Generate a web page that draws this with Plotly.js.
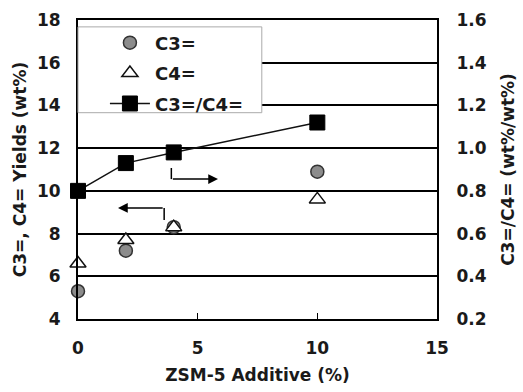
<!DOCTYPE html>
<html><head><meta charset="utf-8">
<script src="https://cdn.plot.ly/plotly-3.0.1.min.js"></script>
<style>html,body{margin:0;padding:0;background:#fff}#chart{width:523px;height:392px}</style>
</head><body><div id="chart"></div>
<script>
const additive = [0, 2, 4, 10];
const c3Yield = [5.3, 7.2, 8.3, 10.9];
const c4Yield = [6.6, 7.7, 8.3, 9.6];
const ratio = [0.80, 0.93, 0.98, 1.12];
const xTicks = [0, 5, 10, 15];
const yLeftTicks = [4, 6, 8, 10, 12, 14, 16, 18];
const yRightTicks = [0.2, 0.4, 0.6, 0.8, 1.0, 1.2, 1.4, 1.6];
const yRightLabels = ['0.2','0.4','0.6','0.8','1.0','1.2','1.4','1.6'];

const fontFam = 'DejaVu Sans, sans-serif';
const txt = '#1a1a1a';
const tf = {family: fontFam, size: 17, color: txt, weight: 'bold'};
const lf = {family: fontFam, size: 18, color: txt, weight: 'bold'};

const traces = [
  {x: additive, y: c3Yield, name: 'C3=', mode: 'markers', type: 'scatter', cliponaxis: false,
   legendgroup: 'a',
   marker: {symbol: 'circle', size: 13, color: '#8c8c8c', line: {color: '#333', width: 1.5}}},
  {x: additive, y: c4Yield, name: 'C4=', mode: 'markers', type: 'scatter', cliponaxis: false,
   legendgroup: 'b',
   marker: {symbol: 'triangle-up', size: 14, color: '#fff', line: {color: '#111', width: 1.5}}},
  {x: additive, y: ratio, name: 'C3=/C4=', mode: 'lines+markers', type: 'scatter', yaxis: 'y2',
   cliponaxis: false, legendgroup: 'c',
   line: {color: '#111', width: 1.5},
   marker: {symbol: 'square', size: 15, color: '#000', line: {color: '#000', width: 1}}}
];

const layout = {
  width: 523, height: 392,
  margin: {l: 78, r: 86, t: 20, b: 73},
  paper_bgcolor: '#fff', plot_bgcolor: '#fff',
  font: tf,
  showlegend: true,
  legend: {x: 0.075, y: 0.985, xanchor: 'left', yanchor: 'top', bgcolor: 'rgba(0,0,0,0)',
    borderwidth: 0, font: lf, traceorder: 'grouped',
    tracegroupgap: 4, itemwidth: 40},
  xaxis: {range: [0, 15], tickvals: xTicks, ticktext: xTicks.map(String), ticks: 'inside', ticklen: 6,
    tickcolor: '#000', tickwidth: 1.5, showgrid: false, zeroline: false, showline: true,
    linecolor: '#000', linewidth: 2, mirror: true, ticklabelstandoff: 13,
    title: {text: 'ZSM-5 Additive (%)', font: tf, standoff: 12}},
  yaxis: {range: [4, 18], tickvals: yLeftTicks, ticks: '', showgrid: true, gridcolor: '#000',
    gridwidth: 2, zeroline: false, showline: true, linecolor: '#000', linewidth: 2,
    ticklabelstandoff: 12,
    title: {text: 'C3=, C4= Yields (wt%)', font: tf, standoff: 6}},
  yaxis2: {range: [0.2, 1.6], overlaying: 'y', side: 'right', tickvals: yRightTicks,
    ticktext: yRightLabels, ticks: '', showgrid: false, zeroline: false, showline: true,
    linecolor: '#000', linewidth: 2, ticklabelstandoff: 14,
    title: {text: 'C3=/C4= (wt%/wt%)', font: tf, standoff: 16}},
  shapes: [
    {type: 'rect', xref: 'paper', yref: 'paper', x0: 0, x1: 0.512, y0: 0.69, y1: 0.977,
     fillcolor: '#fff', line: {color: '#aaa', width: 1}, layer: 'above'},
    {type: 'line', xref: 'x', yref: 'y', x0: 3.9, x1: 3.9, y0: 11.07, y1: 10.55, line: {color: '#000', width: 1.5}},
    {type: 'line', xref: 'x', yref: 'y', x0: 3.6, x1: 3.6, y0: 8.63, y1: 9.2, line: {color: '#000', width: 1.5}}
  ],
  annotations: [
    {x: 5.85, y: 10.55, ax: 3.9, ay: 10.55, xref: 'x', yref: 'y', axref: 'x', ayref: 'y',
     showarrow: true, arrowhead: 2, arrowsize: 1.3, arrowwidth: 1.5, arrowcolor: '#000', text: ''},
    {x: 1.67, y: 9.2, ax: 3.6, ay: 9.2, xref: 'x', yref: 'y', axref: 'x', ayref: 'y',
     showarrow: true, arrowhead: 2, arrowsize: 1.3, arrowwidth: 1.5, arrowcolor: '#000', text: ''}
  ]
};

Plotly.newPlot('chart', traces, layout, {displayModeBar: false, staticPlot: true});
</script></body></html>
